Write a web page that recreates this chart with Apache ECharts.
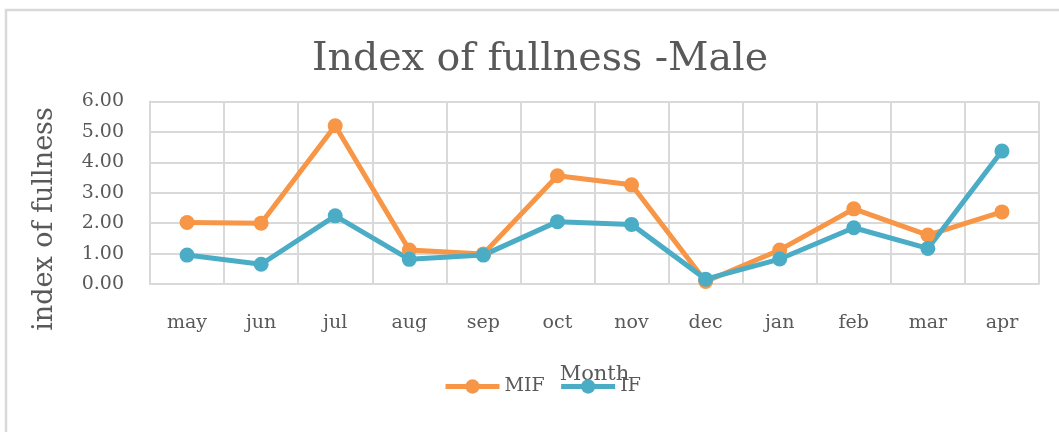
<!DOCTYPE html>
<html>
<head>
<meta charset="utf-8">
<script src="https://cdn.jsdelivr.net/npm/echarts@6/dist/echarts.min.js"></script>
<style>html,body{margin:0;padding:0;background:#fff;}#c{width:1059px;height:432px;}</style>
</head>
<body>
<div id="c"></div>
<script>
const months = ['may','jun','jul','aug','sep','oct','nov','dec','jan','feb','mar','apr'];
const mif = [2.02, 2.00, 5.20, 1.12, 0.99, 3.56, 3.26, 0.08, 1.12, 2.47, 1.61, 2.37];
const ifv = [0.95, 0.65, 2.24, 0.81, 0.95, 2.05, 1.96, 0.16, 0.82, 1.85, 1.17, 4.37];
const yTicks = ['0.00','1.00','2.00','3.00','4.00','5.00','6.00'];

const FONT = 'DejaVu Serif';
const TXT = '#595959';
const chart = echarts.init(document.getElementById('c'));
chart.setOption({
  animation: false,
  graphic: [{
    type: 'rect', shape: {x: 6, y: 10, width: 1100, height: 500},
    style: {fill: 'none', stroke: '#d9d9d9', lineWidth: 2.5}, silent: true
  }, {
    type: 'text', x: 45, y: 219, rotation: Math.PI / 2, silent: true,
    style: {text: 'index of fullness', fontFamily: FONT, fontSize: 27, fill: TXT,
      align: 'center', verticalAlign: 'middle'}
  }],
  title: {
    text: 'Index of fullness -Male', left: 307, top: 35,
    textStyle: {fontFamily: FONT, fontSize: 39.5, fontWeight: 'normal', color: TXT}
  },
  legend: {
    data: ['MIF', 'IF'], bottom: 31, left: 438, itemGap: 14,
    itemWidth: 54, itemHeight: 18,
    lineStyle: {width: 5},
    textStyle: {fontFamily: FONT, fontSize: 19, color: TXT}
  },
  grid: {left: 150, right: 20, top: 101.5, bottom: 148},
  xAxis: {
    type: 'category', data: months, boundaryGap: true,
    name: 'Month', nameLocation: 'middle', nameGap: 80,
    nameTextStyle: {fontFamily: FONT, fontSize: 21, color: TXT},
    axisLine: {show: true, lineStyle: {color: '#d9d9d9', width: 2}},
    axisTick: {show: false},
    splitLine: {show: true, lineStyle: {color: '#d9d9d9', width: 2}},
    axisLabel: {fontFamily: FONT, fontSize: 19, color: TXT, margin: 30}
  },
  yAxis: {
    type: 'value', min: 0, max: 6, interval: 1,
    axisLine: {show: true, lineStyle: {color: '#d9d9d9', width: 2}},
    splitLine: {show: true, lineStyle: {color: '#d9d9d9', width: 2}},
    axisLabel: {fontFamily: FONT, fontSize: 19, color: TXT, margin: 26,
      formatter: (v) => yTicks[Math.round(v)]}
  },
  series: [
    {name: 'MIF', type: 'line', data: mif, symbol: 'circle', symbolSize: 15,
     lineStyle: {color: '#F79646', width: 5}, itemStyle: {color: '#F79646'}},
    {name: 'IF', type: 'line', data: ifv, symbol: 'circle', symbolSize: 15,
     lineStyle: {color: '#4BACC6', width: 5}, itemStyle: {color: '#4BACC6'}}
  ]
});
</script>
</body>
</html>
